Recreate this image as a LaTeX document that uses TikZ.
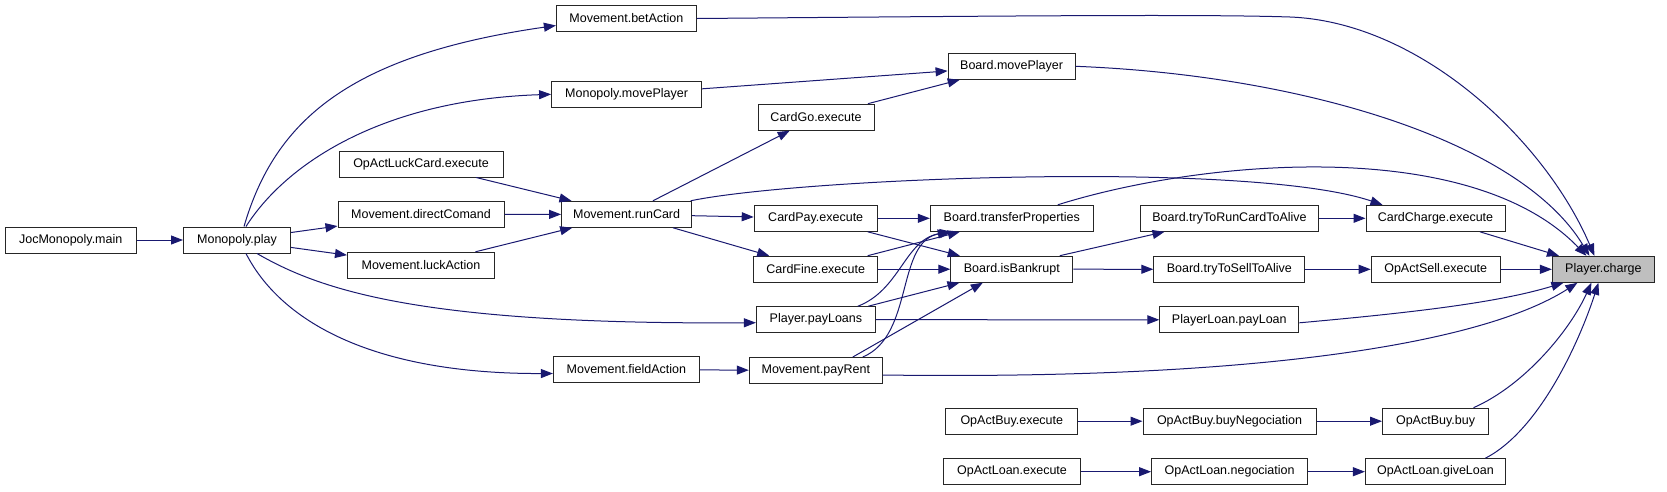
\documentclass[tikz,border=0pt]{standalone}
\usepackage{fontspec}
\setmainfont{Liberation Sans}
\usetikzlibrary{arrows.meta}
\definecolor{edgeblue}{HTML}{191970}
\definecolor{curfill}{HTML}{BFBFBF}

\begin{document}
\begin{tikzpicture}[x=1pt,y=-1pt,>={Triangle[length=12pt,width=9pt]},
  fn/.style={draw=black!85,fill=white,line width=1pt,minimum height=26pt,inner sep=0pt,font=\fontsize{12.5}{15}\selectfont},
  call/.style={->,draw=edgeblue,line width=1pt}]
\useasboundingbox (0,0) rectangle (1667,491);
\node[fn,minimum width=131pt] (main) at (70.7,240) {JocMonopoly.main};
\node[fn,minimum width=107pt] (play) at (237,240) {Monopoly.play};
\node[fn,minimum width=164pt] (luckCard) at (421,164) {OpActLuckCard.execute};
\node[fn,minimum width=166pt] (directCmd) at (421,214.5) {Movement.directComand};
\node[fn,minimum width=147pt] (luckAction) at (421,265.3) {Movement.luckAction};
\node[fn,minimum width=140pt] (betAction) at (626.4,18.5) {Movement.betAction};
\node[fn,minimum width=150pt] (monoMove) at (626.6,94.3) {Monopoly.movePlayer};
\node[fn,minimum width=130pt] (runCard) at (626.6,214.3) {Movement.runCard};
\node[fn,minimum width=146pt] (fieldAction) at (626.4,369.5) {Movement.fieldAction};
\node[fn,minimum width=116pt] (cardGo) at (816,117.2) {CardGo.execute};
\node[fn,minimum width=123pt] (cardPay) at (815.7,218.3) {CardPay.execute};
\node[fn,minimum width=124pt] (cardFine) at (815.7,269.2) {CardFine.execute};
\node[fn,minimum width=119pt] (payLoans) at (815.9,319.7) {Player.payLoans};
\node[fn,minimum width=133pt] (payRent) at (815.8,370.5) {Movement.payRent};
\node[fn,minimum width=127pt] (boardMove) at (1011.6,66.3) {Board.movePlayer};
\node[fn,minimum width=163pt] (transferProps) at (1011.8,218.3) {Board.transferProperties};
\node[fn,minimum width=122pt] (isBankrupt) at (1011.8,269.2) {Board.isBankrupt};
\node[fn,minimum width=132pt] (buyExec) at (1011.8,421.2) {OpActBuy.execute};
\node[fn,minimum width=137pt] (loanExec) at (1012,471.7) {OpActLoan.execute};
\node[fn,minimum width=178pt] (tryRun) at (1229.5,218.3) {Board.tryToRunCardToAlive};
\node[fn,minimum width=151pt] (trySell) at (1229.3,269.3) {Board.tryToSellToAlive};
\node[fn,minimum width=139pt] (payLoan) at (1229.3,319.8) {PlayerLoan.payLoan};
\node[fn,minimum width=173pt] (buyNeg) at (1229.5,421.2) {OpActBuy.buyNegociation};
\node[fn,minimum width=156pt] (loanNeg) at (1229.6,471.7) {OpActLoan.negociation};
\node[fn,minimum width=139pt] (cardCharge) at (1435.5,218.3) {CardCharge.execute};
\node[fn,minimum width=129pt] (sellExec) at (1435.7,269.3) {OpActSell.execute};
\node[fn,minimum width=106pt] (buy) at (1435.5,421.2) {OpActBuy.buy};
\node[fn,minimum width=140pt] (giveLoan) at (1435.4,471.7) {OpActLoan.giveLoan};
\node[fn,fill=curfill,minimum width=102pt] (charge) at (1603.4,269.3) {Player.charge};

\draw[call] (main) -- (play);
\draw[call] ([xshift=7pt]play.north) .. controls (275,120) and (350,55) .. ([yshift=-7pt]betAction.west);
\draw[call] ([xshift=9pt]play.north) .. controls (285,165) and (380,100) .. (monoMove.west);
\draw[call] (play) -- (directCmd);
\draw[call] (play) -- (luckAction);
\draw[call] ([xshift=20pt]play.south) .. controls (320,290) and (420,325) .. ([yshift=-3pt]payLoans.west);
\draw[call] ([xshift=9pt]play.south) .. controls (280,320) and (370,374) .. ([yshift=-4pt]fieldAction.west);
\draw[call] (luckCard) -- (runCard);
\draw[call] (directCmd) -- (runCard);
\draw[call] (luckAction) -- (runCard);
\draw[call] (runCard) -- (cardGo);
\draw[call] (runCard) -- (cardPay);
\draw[call] (runCard) -- (cardFine);
\draw[call] ([xshift=64pt]runCard.north) .. controls (800,178) and (1250,160) .. ([xshift=-53pt]cardCharge.north);
\draw[call] (fieldAction) -- (payRent);
\draw[call] (betAction.east) .. controls (1000,16) and (1200,14) .. (1290,17) .. controls (1420,22) and (1545,140) .. ([xshift=-9pt]charge.north);
\draw[call] (monoMove) -- (boardMove);
\draw[call] (cardGo) -- (boardMove);
\draw[call] (boardMove.east) .. controls (1300,75) and (1520,140) .. ([xshift=-14pt]charge.north);
\draw[call] (cardPay) -- (transferProps);
\draw[call] (cardPay) -- (isBankrupt);
\draw[call] (cardFine) -- (transferProps);
\draw[call] (cardFine) -- (isBankrupt);
\draw[call] ([xshift=42pt]payLoans.north) .. controls (900,290) and (905,240) .. ([xshift=-62pt]transferProps.south);
\draw[call] (payLoans) -- (isBankrupt);
\draw[call] (payLoans) -- (payLoan);
\draw[call] ([xshift=47pt]payRent.north) .. controls (915,335) and (895,240) .. ([xshift=-60pt]transferProps.south);
\draw[call] ([xshift=37pt]payRent.north) -- ([xshift=-29pt]isBankrupt.south);
\draw[call] ([yshift=-4.5pt]payRent.east) .. controls (1250,380) and (1480,345) .. ([xshift=-26pt]charge.south);
\draw[call] ([xshift=46pt]transferProps.north) .. controls (1200,160) and (1470,135) .. ([xshift=-17pt]charge.north);
\draw[call] ([xshift=48pt]isBankrupt.north) -- ([xshift=-65pt]tryRun.south);
\draw[call] (isBankrupt) -- (trySell);
\draw[call] (tryRun) -- (cardCharge);
\draw[call] (trySell) -- (sellExec);
\draw[call] (cardCharge) -- (charge);
\draw[call] (sellExec) -- (charge);
\draw[call] ([yshift=-3pt]payLoan.east) .. controls (1420,312) and (1500,302) .. ([xshift=-40pt]charge.south);
\draw[call] (buyExec) -- (buyNeg);
\draw[call] (buyNeg) -- (buy);
\draw[call] ([xshift=38pt]buy.north) .. controls (1525,385) and (1570,330) .. ([xshift=-12pt]charge.south);
\draw[call] (loanExec) -- (loanNeg);
\draw[call] (loanNeg) -- (giveLoan);
\draw[call] ([xshift=50pt]giveLoan.north) .. controls (1540,430) and (1580,340) .. ([xshift=-5pt]charge.south);
\end{tikzpicture}
\end{document}
